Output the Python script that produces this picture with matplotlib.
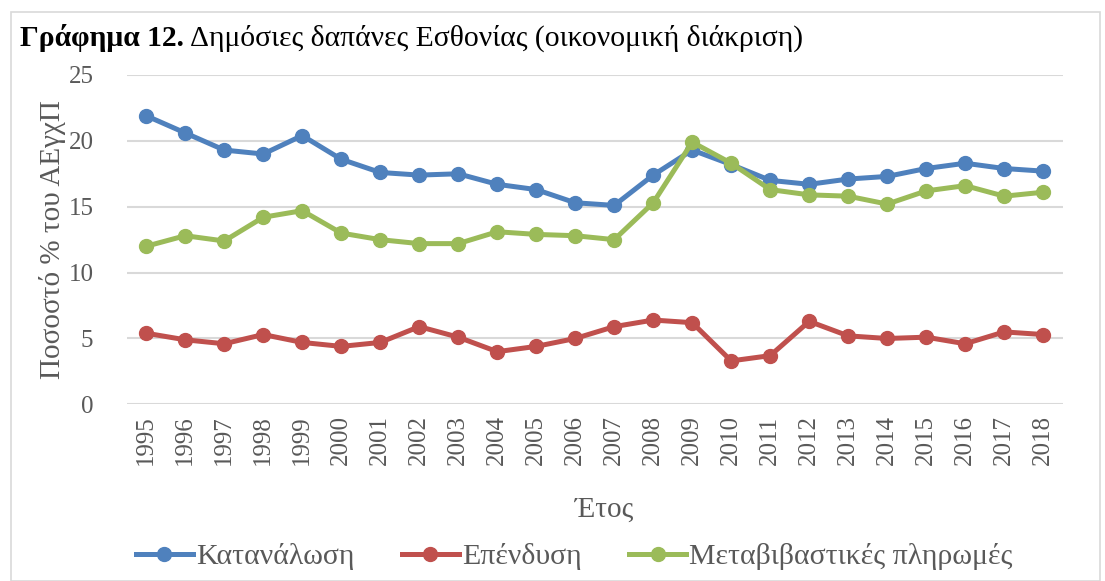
import matplotlib
matplotlib.use('Agg')
import matplotlib.pyplot as plt
import numpy as np
from matplotlib.patches import Rectangle

plt.rcParams['font.family'] = ['Liberation Serif', 'DejaVu Serif']

years = [str(y) for y in range(1995, 2019)]
consumption = [21.9, 20.6, 19.3, 19.0, 20.4, 18.6, 17.6, 17.4, 17.5, 16.7, 16.3, 15.3,
               15.1, 17.4, 19.3, 18.2, 17.0, 16.7, 17.1, 17.3, 17.9, 18.3, 17.9, 17.7]
investment = [5.4, 4.9, 4.6, 5.3, 4.7, 4.4, 4.7, 5.9, 5.1, 4.0, 4.4, 5.0,
              5.9, 6.4, 6.2, 3.3, 3.7, 6.3, 5.2, 5.0, 5.1, 4.6, 5.5, 5.3]
transfers = [12.0, 12.8, 12.4, 14.2, 14.7, 13.0, 12.5, 12.2, 12.2, 13.1, 12.9, 12.8,
             12.5, 15.3, 19.9, 18.3, 16.3, 15.9, 15.8, 15.2, 16.2, 16.6, 15.8, 16.1]
series_names = ['Κατανάλωση', 'Επένδυση', 'Μεταβιβαστικές πληρωμές']
colors = ['#4f81bd', '#c0504d', '#9bbb59']

txt = '#595959'
serif = 'Liberation Serif'

fig = plt.figure(figsize=(11.05, 5.81), dpi=100)
ax = fig.add_axes([0.1147, 0.304, 0.847, 0.567])

# outer chart border
fig.patches.append(Rectangle((11/1105, 0.0), 1 - 16/1105, 1 - 12/581, transform=fig.transFigure,
                             fill=False, edgecolor='#d9d9d9', linewidth=1.2))

x = np.arange(len(years))
for vals, name, c in zip([consumption, investment, transfers], series_names, colors):
    ax.plot(x, vals, color=c, linewidth=3.6, marker='o', markersize=10, label=name)

ax.set_xlim(-0.5, len(years) - 0.5)
ax.set_ylim(0, 25)
ax.set_yticks([0, 5, 10, 15, 20, 25])
ax.set_xticks(x)
ax.set_xticklabels(years, rotation=90)
ax.grid(axis='y', color='#d9d9d9', linewidth=1.5)
ax.set_axisbelow(True)
for s in ax.spines.values():
    s.set_visible(False)
ax.tick_params(axis='both', length=0, labelsize=18, labelcolor=txt)
ax.tick_params(axis='y', pad=24)
ax.tick_params(axis='x', pad=8)

ax.set_ylabel('Ποσοστό % του ΑΕγχΠ', fontsize=21, color=txt, labelpad=2, family=serif)
ax.set_xlabel('Έτος', fontsize=21, color=txt, family=serif)
ax.xaxis.set_label_coords(0.51, -0.28)

leg = ax.legend(loc='upper center', bbox_to_anchor=(0.478, -0.34), ncol=3, frameon=False,
                prop={'family': serif, 'size': 21.5}, handlelength=1.9, columnspacing=1.6,
                handletextpad=0.1, labelcolor=txt)

# title: bold part + regular part
t1 = fig.text(20/1105, 1 - 38/581, 'Γράφημα 12.', fontsize=21.3, fontweight='bold',
              color='black', va='center', ha='left', family=serif)
fig.canvas.draw()
bb = t1.get_window_extent()
fig.text((bb.x1 + 6)/1105, 1 - 38/581, 'Δημόσιες δαπάνες Εσθονίας (οικονομική διάκριση)',
         fontsize=21.3, color='black', va='center', ha='left', family=serif)

fig.savefig('out.png', dpi=100)
